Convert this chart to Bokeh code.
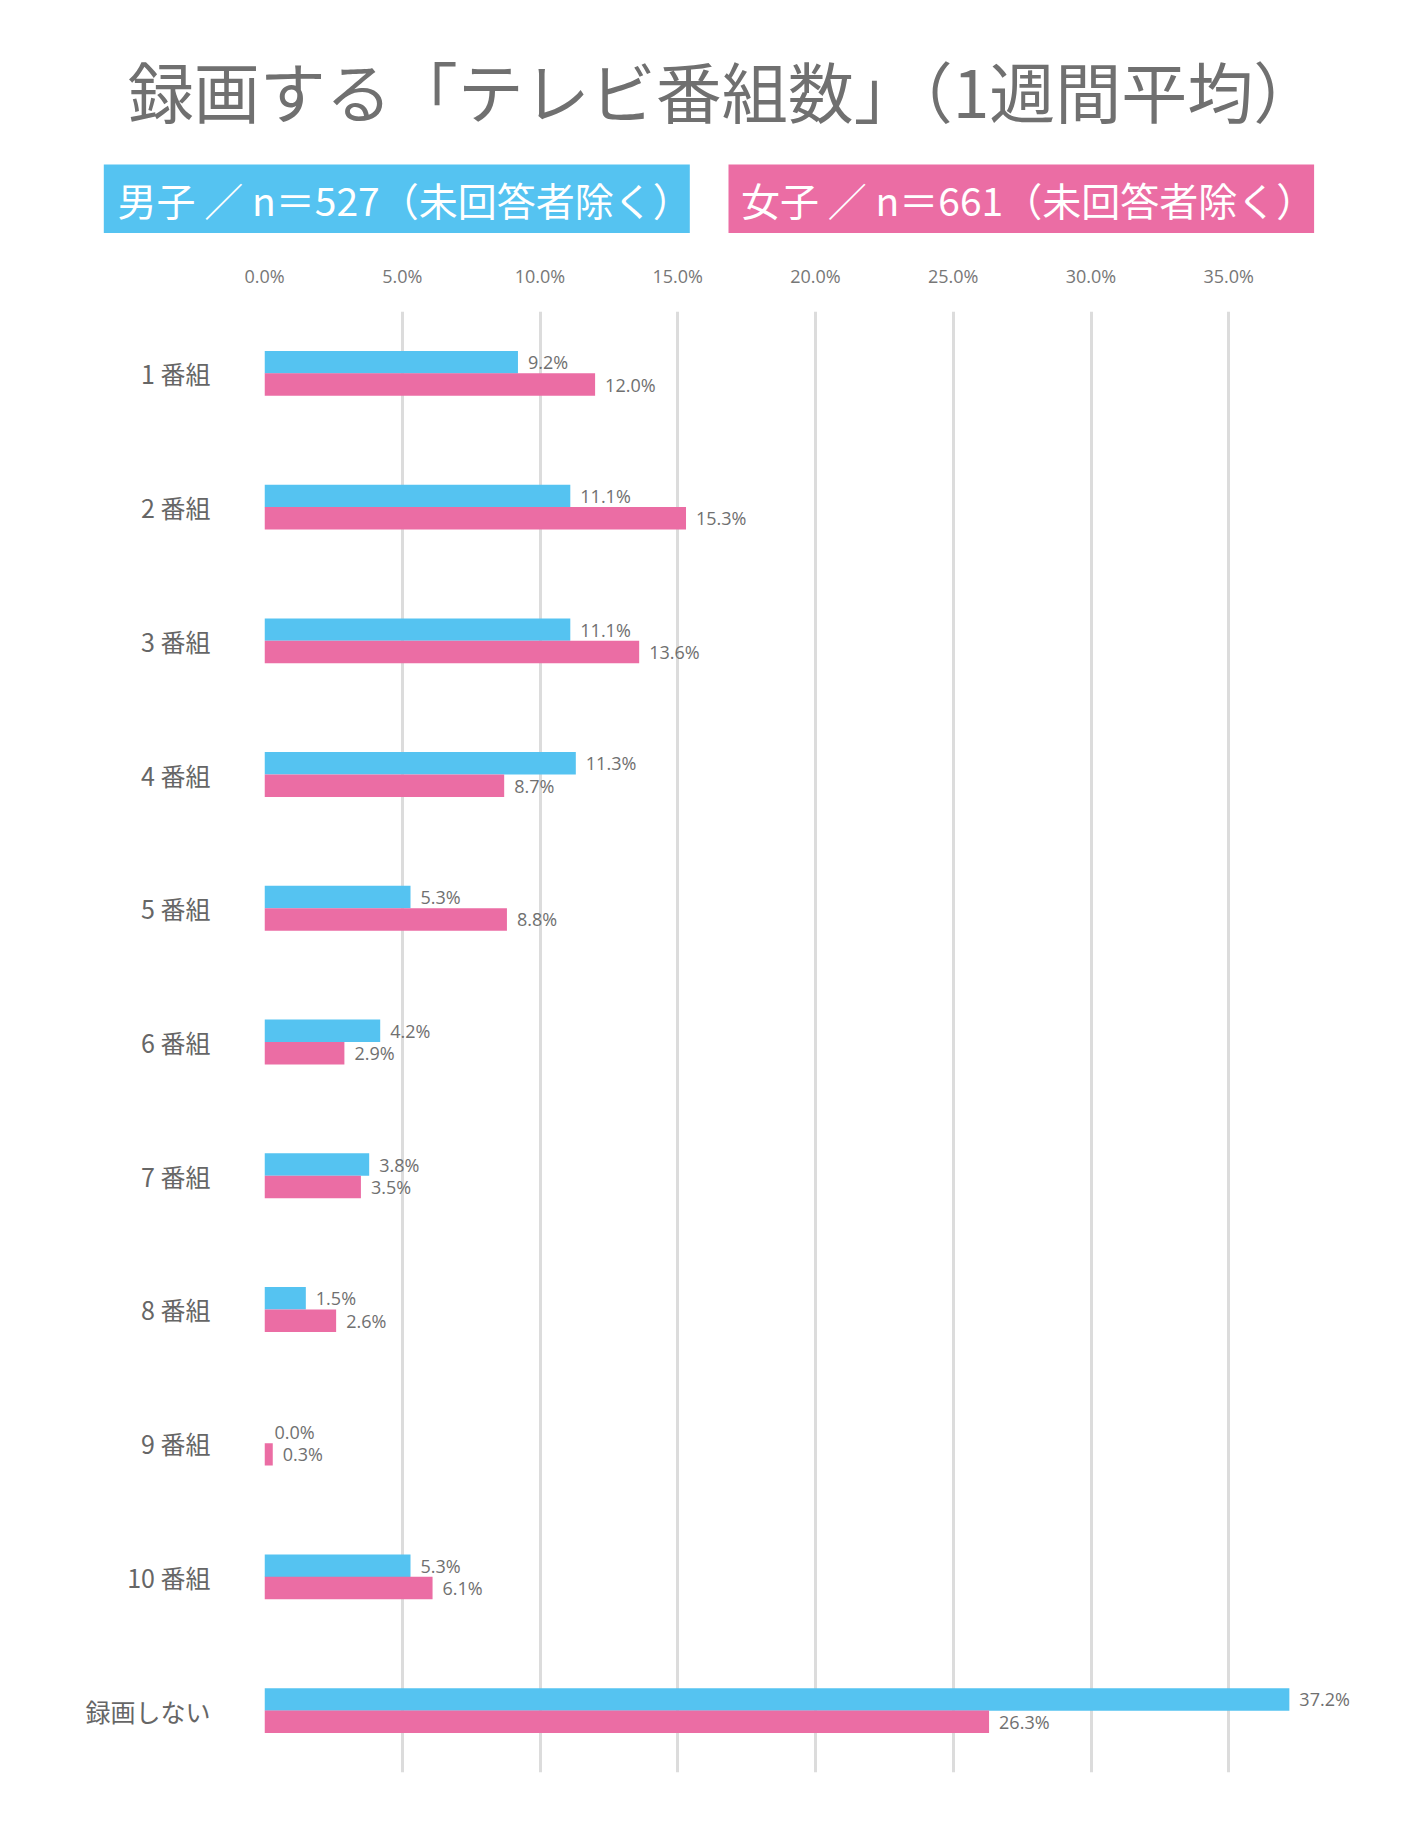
from bokeh.plotting import figure
from bokeh.models import Range1d, FactorRange, FixedTicker, PrintfTickFormatter, ColumnDataSource
from bokeh.transform import dodge
from bokeh.core.properties import value
from bokeh.embed import file_html
from bokeh.resources import INLINE

# ---- data ----
title_text = "録画する「テレビ番組数」（1週間平均）"
legend_male = "男子 ／ n＝527（未回答者除く）"
legend_female = "女子 ／ n＝661（未回答者除く）"
categories = ["1 番組", "2 番組", "3 番組", "4 番組", "5 番組", "6 番組",
              "7 番組", "8 番組", "9 番組", "10 番組", "録画しない"]
male = [9.2, 11.1, 11.1, 11.3, 5.3, 4.2, 3.8, 1.5, 0.0, 5.3, 37.2]
female = [12.0, 15.3, 13.6, 8.7, 8.8, 2.9, 3.5, 2.6, 0.3, 6.1, 26.3]
x_ticks = [0, 5, 10, 15, 20, 25, 30, 35]

BLUE = "#55C3F1"
PINK = "#EB6DA4"
GRAY_T = "#707070"
CJK = "Noto Sans CJK JP"

W = 1417

# ---- header figure (title + legend boxes), pixel coordinates ----
HH = 245
h = figure(width=W, height=HH, x_range=Range1d(0, W), y_range=Range1d(HH, 0),
           x_axis_location=None, y_axis_location=None, toolbar_location=None,
           output_backend="svg", min_border=0, outline_line_color=None)
h.grid.visible = False
h.text(x=[723], y=[88], text=[title_text], text_font=value(CJK),
       text_font_size="66px", text_color=GRAY_T, text_align="center",
       text_baseline="middle")
h.quad(left=[103.3, 728.0], right=[689.3, 1313.6], top=[164, 164], bottom=[232.5, 232.5],
       fill_color=[BLUE, PINK], line_color=None)
h.text(x=[117.0, 740.5], y=[198, 198], text=[legend_male, legend_female],
       text_font=value(CJK), text_font_size="39px", text_color="white",
       text_align="left", text_baseline="middle")

# ---- chart figure ----
CH = 1823 - HH
factors = list(reversed(categories))
p = figure(width=W, height=CH, x_range=Range1d(0, 40),
           y_range=FactorRange(factors=factors, range_padding=-0.0068),
           x_axis_location="above", toolbar_location=None, output_backend="svg",
           min_border_top=66, min_border_bottom=51, min_border_left=264,
           min_border_right=51, outline_line_color=None)

src = ColumnDataSource(dict(
    cat=categories, male=male, female=female,
    male_lbl=[f"{v:.1f}%" for v in male],
    female_lbl=[f"{v:.1f}%" for v in female],
))

off = 0.0837
bh = 0.168
p.hbar(y=dodge("cat", off, range=p.y_range), left=0, right="male", height=bh,
       source=src, fill_color=BLUE, line_color=None)
p.hbar(y=dodge("cat", -off, range=p.y_range), left=0, right="female", height=bh,
       source=src, fill_color=PINK, line_color=None)

p.text(x="male", y=dodge("cat", off, range=p.y_range), text="male_lbl", source=src,
       x_offset=10, text_font=value("Open Sans"), text_font_size="18px",
       text_color=GRAY_T, text_baseline="middle", text_align="left")
p.text(x="female", y=dodge("cat", -off, range=p.y_range), text="female_lbl", source=src,
       x_offset=10, text_font=value("Open Sans"), text_font_size="18px",
       text_color=GRAY_T, text_baseline="middle", text_align="left")

# x axis (top)
xa = p.xaxis[0]
xa.ticker = FixedTicker(ticks=x_ticks)
xa.formatter = PrintfTickFormatter(format="%.1f%%")
xa.axis_line_color = None
xa.major_tick_line_color = None
xa.minor_tick_line_color = None
xa.major_label_standoff = 18
xa.major_label_text_font = "Open Sans"
xa.major_label_text_font_size = "18px"
xa.major_label_text_color = "#777777"

# y axis (left)
ya = p.yaxis[0]
ya.axis_line_color = None
ya.major_tick_line_color = None
ya.minor_tick_line_color = None
ya.major_label_standoff = 48
ya.major_label_text_font = CJK
ya.major_label_text_font_size = "25px"
ya.major_label_text_color = "#666666"

p.xgrid.ticker = FixedTicker(ticks=x_ticks)
p.xgrid.grid_line_color = "#DCDCDC"
p.xgrid.grid_line_width = 3
p.ygrid.grid_line_color = None

open("out.html", "w").write(file_html([h, p], INLINE))
